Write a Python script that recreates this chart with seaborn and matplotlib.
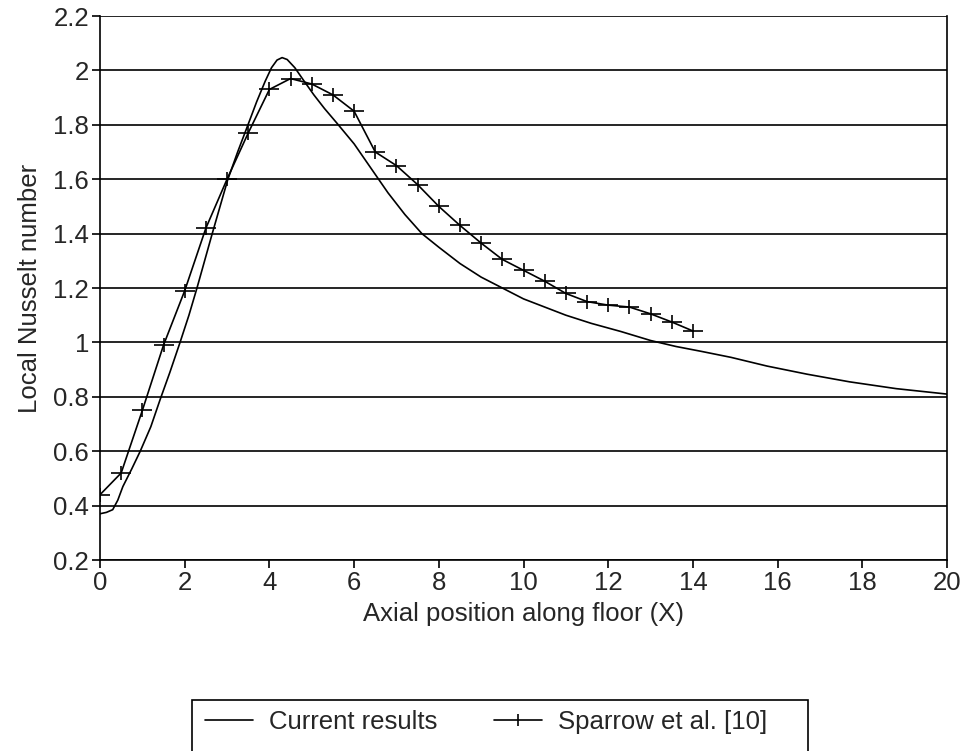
import numpy as np
import pandas as pd
import seaborn as sns
import matplotlib.pyplot as plt
from matplotlib.path import Path
from matplotlib.patches import Rectangle
from matplotlib.lines import Line2D

# current results (smooth curve)
cur_x = [0, 0.15, 0.3, 0.42, 0.54, 0.75, 0.95, 1.2, 1.42, 1.65, 1.89, 2.1, 2.29,
         2.65, 3.02, 3.25, 3.47, 3.7, 3.9, 4.05, 4.18, 4.3, 4.42, 4.6, 4.8,
         5.05, 5.3, 5.6, 6.0, 6.4, 6.8, 7.2, 7.6, 8.0, 8.5, 9.0, 9.5, 10.0,
         10.5, 11.0, 11.6, 12.3, 13.0, 13.6, 14.2, 14.9, 15.75, 16.7, 17.7,
         18.8, 20]
cur_y = [0.37, 0.375, 0.385, 0.42, 0.47, 0.535, 0.60, 0.69, 0.79, 0.89, 1.00,
         1.10, 1.20, 1.40, 1.60, 1.70, 1.79, 1.885, 1.96, 2.01, 2.038, 2.047,
         2.04, 2.01, 1.965, 1.91, 1.86, 1.805, 1.73, 1.64, 1.55, 1.47, 1.40,
         1.35, 1.29, 1.24, 1.20, 1.16, 1.13, 1.10, 1.07, 1.04, 1.007, 0.985,
         0.967, 0.945, 0.913, 0.883, 0.855, 0.83, 0.81]

# Sparrow et al. [10]
sp_x = [0, 0.5, 1, 1.5, 2, 2.5, 3, 3.5, 4, 4.5, 5, 5.5, 6, 6.5, 7, 7.5, 8,
        8.5, 9, 9.5, 10, 10.5, 11, 11.5, 12, 12.5, 13, 13.5, 14]
sp_y = [0.44, 0.52, 0.75, 0.99, 1.19, 1.42, 1.60, 1.77, 1.93, 1.97, 1.95, 1.91,
        1.85, 1.70, 1.65, 1.58, 1.50, 1.43, 1.365, 1.305, 1.265, 1.225, 1.18,
        1.15, 1.137, 1.13, 1.105, 1.075, 1.042]

x_ticks = [0, 2, 4, 6, 8, 10, 12, 14, 16, 18, 20]
y_ticks = [0.2, 0.4, 0.6, 0.8, 1, 1.2, 1.4, 1.6, 1.8, 2, 2.2]
y_labels = ["0.2", "0.4", "0.6", "0.8", "1", "1.2", "1.4", "1.6", "1.8", "2", "2.2"]

sns.set_style("white")
plt.rcParams['font.family'] = ['Liberation Sans', 'DejaVu Sans']
fs = 18.5

# wide plus sign used as marker
plus = Path([(-1, 0), (1, 0), (0, -0.65), (0, 0.65)],
            [Path.MOVETO, Path.LINETO, Path.MOVETO, Path.LINETO])

fig = plt.figure(figsize=(9.62, 7.51), dpi=100)
ax = fig.add_axes([100 / 962, 1 - 560 / 751, 847 / 962, 544 / 751])

df_cur = pd.DataFrame({"x": cur_x, "y": cur_y})
df_sp = pd.DataFrame({"x": sp_x, "y": sp_y})

sns.lineplot(data=df_cur, x="x", y="y", color="black", lw=1.2, ax=ax,
             estimator=None, sort=False)
sns.lineplot(data=df_sp, x="x", y="y", color="black", lw=1.2, ax=ax,
             estimator=None, sort=False, marker=plus, markersize=15,
             markeredgewidth=1.2, markeredgecolor="black", markerfacecolor="none")

ax.set_xlim(0, 20)
ax.set_ylim(0.2, 2.2)
ax.set_xticks(x_ticks)
ax.set_yticks(y_ticks)
ax.set_yticklabels(y_labels)
ax.grid(axis="y", color="black", lw=1.2)
ax.grid(axis="x", visible=False)
ax.set_axisbelow(True)
for s in ["left", "bottom", "right"]:
    ax.spines[s].set_color("black")
    ax.spines[s].set_linewidth(1.2)
ax.spines["top"].set_visible(False)
ax.tick_params(axis="both", direction="out", length=6, width=1.2, color="black",
               labelsize=fs, pad=2, left=True, bottom=True)
ax.set_xlabel("Axial position along floor (X)", fontsize=fs, labelpad=5)
ax.set_ylabel("Local Nusselt number", fontsize=fs, labelpad=8)

# legend box, bottom runs off the figure like the scan
fig.patches.append(Rectangle((192 / 962, -0.05), 616 / 962, 0.05 + 1 - 700 / 751,
                             transform=fig.transFigure, fill=False,
                             edgecolor="black", lw=1.2))
h1 = Line2D([], [], color="black", lw=1.2)
h2 = Line2D([], [], color="black", lw=1.2, marker="|", markersize=8,
            markeredgewidth=1.2)
fig.legend([h1, h2], ["Current results", "Sparrow et al. [10]"], ncol=2,
           loc="center left", bbox_to_anchor=(205 / 962, 1 - 722 / 751),
           frameon=False, fontsize=fs, handlelength=1.85, handletextpad=0.65,
           columnspacing=2.2, borderpad=0, borderaxespad=0)

fig.savefig("out.png", dpi=100)
